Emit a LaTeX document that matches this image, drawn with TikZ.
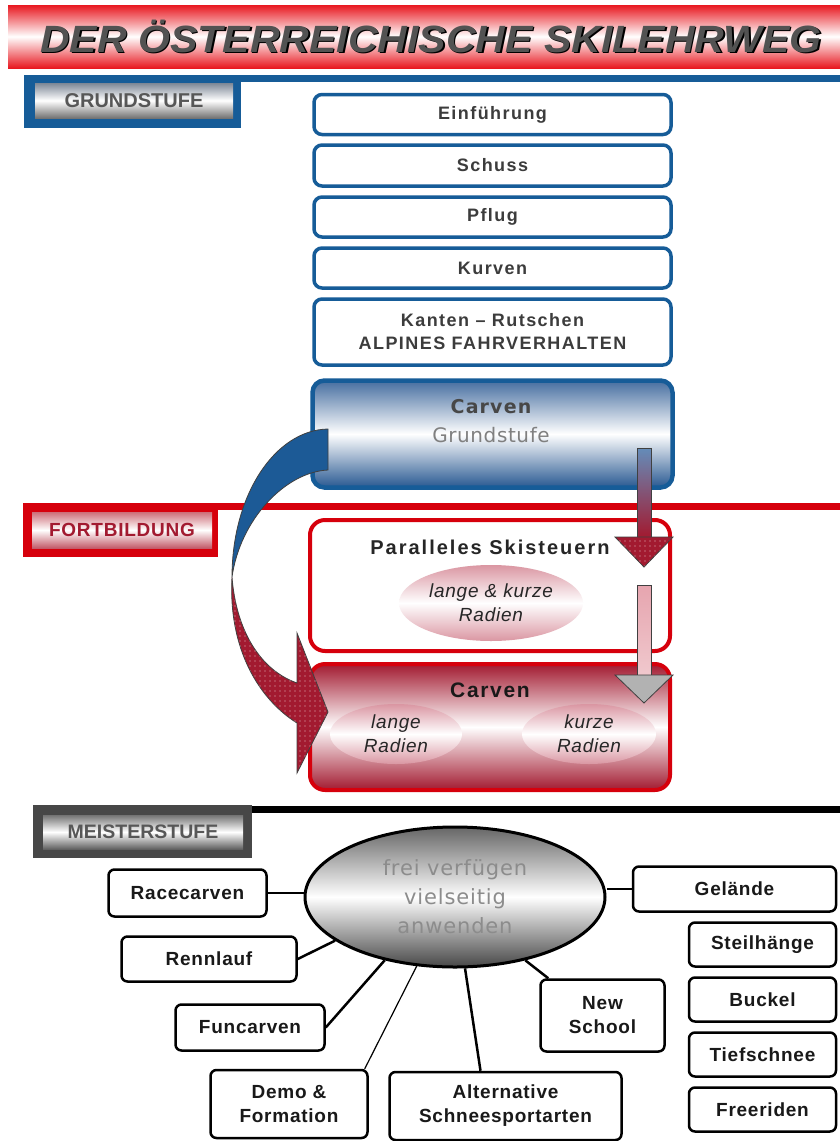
\documentclass[tikz,border=0pt]{standalone}
\usepackage{fontspec}
\setmainfont{Liberation Sans}
\newfontfamily\vd{DejaVu Sans}
\newfontfamily\titlefont[FakeStretch=1.08]{Liberation Sans}
\usetikzlibrary{shapes.geometric,calc,patterns.meta}

\definecolor{gblue}{RGB}{22,92,152}
\definecolor{cblue}{RGB}{28,90,150}
\definecolor{sblue}{RGB}{100,140,185}
\definecolor{bred}{RGB}{214,0,12}
\definecolor{dred}{RGB}{162,26,48}
\definecolor{banred}{RGB}{232,24,32}
\definecolor{pinkdot}{RGB}{218,150,162}
\definecolor{txt}{RGB}{60,60,60}

\newcommand\fs[2]{\fontsize{#1}{#2}\selectfont}
\newcommand\ls[1]{\addfontfeature{LetterSpace=#1}}

\tikzset{
  gbox/.style={draw=gblue, line width=3.5pt, rounded corners=8pt, fill=white,
    minimum width=357pt, inner sep=0pt, align=center, text=txt,
    font=\bfseries\fs{18}{23}\ls{8}},
  rbox/.style={draw=bred, line width=4pt, rounded corners=15pt,
    minimum width=360pt, inner sep=0pt},
  pinkell/.style={ellipse, inner sep=0pt, top color=pinkdot, bottom color=pinkdot,
    middle color=white, align=center, text=black!85, font=\itshape\fs{19}{24}\ls{4}},
  mbox/.style={draw=black, line width=2.5pt, rounded corners=6pt, fill=white,
    inner sep=0pt, align=center, text=black!90, font=\bfseries\fs{19}{24}\ls{4}},
  hdr/.style={inner sep=0pt, font=\bfseries\fs{20}{24}},
  link/.style={draw=black, line width=2.5pt},
  blockedge/.style={draw=black!75, line width=0.8pt},
  dotted red/.style={postaction={pattern={Dots[distance=5pt,radius=0.6pt]}, pattern color=white!70!dred}},
}

\begin{document}
\begin{tikzpicture}[x=1pt, y=-1pt]
\useasboundingbox (0,0) rectangle (840,1141);
\fill[white] (0,0) rectangle (840,1141);

% ---------- title banner ----------
\shade[top color=banred, bottom color=banred, middle color=white] (8,5) rectangle (845,68);
\node[anchor=base, inner sep=0pt, text=black, font=\titlefont\bfseries\itshape\fs{38}{40}]
  (titleshadow) at (432.5,53.5) {DER ÖSTERREICHISCHE SKILEHRWEG};
\node[anchor=base, inner sep=0pt, text=black!68, font=\titlefont\bfseries\itshape\fs{38}{40}]
  (title) at (431,52) {DER ÖSTERREICHISCHE SKILEHRWEG};

% ---------- section rules and level headers ----------
\draw[gblue, line width=7pt] (24,78.5) -- (840,78.5);
\fill[gblue] (24,75) rectangle (241,128);
\node[hdr, top color={rgb,255:red,125;green,135;blue,150}, bottom color=black!55, middle color=white,
  minimum width=198pt, minimum height=35pt, text=black!66] (hgrund) at (134,100.5) {GRUNDSTUFE};

\draw[bred, line width=7pt] (23,506.5) -- (840,506.5);
\fill[bred] (23,503) rectangle (218,557);
\node[hdr, top color={rgb,255:red,205;green,110;blue,120}, bottom color={rgb,255:red,195;green,90;blue,105},
  middle color=white, minimum width=180pt, minimum height=36pt, text=dred, font=\bfseries\fs{19}{24}\ls{4}]
  (hfort) at (122,530) {FORTBILDUNG};

\draw[black, line width=7pt] (240,809) -- (840,809);
\fill[black!72] (33,805) rectangle (252,858);
\node[hdr, top color=black!55, bottom color=black!62, middle color=white,
  minimum width=200pt, minimum height=34pt, text=black!66, font=\bfseries\fs{19.5}{24}]
  (hmeister) at (143,832) {MEISTERSTUFE};

% ---------- Grundstufe ----------
\node[gbox, minimum height=40pt] (einf) at (492.5,114.5) {Einführung};
\node[gbox, minimum height=41pt] (schuss) at (492.5,165.5) {Schuss};
\node[gbox, minimum height=40pt] (pflug) at (492.5,217) {Pflug};
\node[gbox, minimum height=40pt] (kurven) at (492.5,268) {Kurven};
\node[gbox, minimum height=66pt] (kanten) at (492.5,332) {Kanten – Rutschen\\ALPINES FAHRVERHALTEN};

\node[draw=gblue, line width=4.5pt, rounded corners=12pt,
  top color={rgb,255:red,70;green,110;blue,160}, bottom color={rgb,255:red,40;green,88;blue,145},
  middle color=white, minimum width=360pt, minimum height=107pt, inner sep=0pt] (carvG) at (492.5,434) {};
\node[inner sep=0pt, text=black!72, font=\vd\bfseries\fs{19}{22}\ls{6}] (carvGt) at (491,407) {Carven};
\node[inner sep=0pt, text=black!50, font=\vd\fs{20}{24}\ls{3}] (carvGs) at (491,435) {Grundstufe};

% ---------- Fortbildung ----------
\node[rbox, fill=white, minimum height=131pt] (par) at (490,585.5) {};
\node[inner sep=0pt, text=black!85, font=\bfseries\fs{20}{24}\ls{10}] (part) at (490,547) {Paralleles Skisteuern};
\node[pinkell, minimum width=184pt, minimum height=76pt] (radien) at (491,603) {lange \& kurze\\Radien};

\node[rbox, top color=dred, bottom color=dred, middle color=white, minimum height=126pt] (carvF) at (490,727) {};
\node[inner sep=0pt, text=black!90, font=\bfseries\fs{21}{24}\ls{8}] (carvFt) at (490,690) {Carven};
\node[pinkell, minimum width=132pt, minimum height=60pt] (lang) at (396,734) {lange\\Radien};
\node[pinkell, minimum width=134pt, minimum height=60pt] (kurz) at (589,734) {kurze\\Radien};

% ---------- curved block arrow from Grundstufe to Fortbildung ----------
\path[blockedge, fill=cblue]
  (328,429) .. controls (275,430) and (232,495) .. (232,577)
  .. controls (240,520) and (285,472) .. (328,470) -- cycle;
\path[blockedge, fill=dred, dotted red]
  (232,577) .. controls (236,630) and (260,670) .. (297,683)
  -- (297,633) -- (328,712) -- (297,773) -- (297,723)
  .. controls (260,700) and (228,650) .. (232,577) -- cycle;

% ---------- straight block arrows ----------
\path[blockedge, top color=sblue, bottom color=dred] (637,448) rectangle (651,537);
\path[blockedge, fill=dred, dotted red] (615,537) -- (673,537) -- (644,567) -- cycle;
\path[blockedge, top color={rgb,255:red,230;green,165;blue,175}, bottom color={rgb,255:red,240;green,200;blue,205}]
  (637,585) rectangle (651,675);
\path[blockedge, fill=black!30] (615,675) -- (673,675) -- (644,703) -- cycle;

% ---------- Meisterstufe ----------
\node[ellipse, draw=black, line width=3pt, minimum width=300pt, minimum height=140pt, inner sep=0pt,
  top color=black!60, bottom color=black!72, middle color=white, align=center, text=black!45,
  font=\vd\fs{21}{29}\ls{4}] (core) at (455,897) {frei verfügen\\vielseitig\\anwenden};

\node[mbox, minimum width=158pt, minimum height=47pt] (race) at (187.5,893) {Racecarven};
\node[mbox, minimum width=175pt, minimum height=45pt] (renn) at (209,959) {Rennlauf};
\node[mbox, minimum width=149pt, minimum height=46pt] (fun) at (250,1027.5) {Funcarven};
\node[mbox, minimum width=157pt, minimum height=68pt] (demo) at (289,1104) {Demo \&\\Formation};
\node[mbox, minimum width=232pt, minimum height=68pt] (alt) at (505.5,1106) {Alternative\\Schneesportarten};
\node[mbox, minimum width=124pt, minimum height=72pt] (news) at (602.5,1015.5) {New\\School};
\node[mbox, minimum width=203pt, minimum height=45pt] (gel) at (734.5,889) {Gelände};
\node[mbox, minimum width=147pt, minimum height=44pt] (steil) at (762.5,944.5) {Steilhänge};
\node[mbox, minimum width=147pt, minimum height=44pt] (buck) at (762.5,999.5) {Buckel};
\node[mbox, minimum width=147pt, minimum height=44pt] (tief) at (762.5,1054.5) {Tiefschnee};
\node[mbox, minimum width=147pt, minimum height=44pt] (free) at (762.5,1109.5) {Freeriden};

\draw[link] (race.east) -- (race.east -| core.west);
\draw[link] (renn.east) -- (core.200);
\draw[link] (fun.east) -- (core.222);
\draw[link, line width=1.2pt] ($(demo.north east)+(-4,0)$) -- (core.241);
\draw[link] ($(alt.north)+(-25,0)$) -- (core.278);
\draw[link] ($(news.north west)+(9,0)$) -- (core.318);
\draw[link] (gel.west) -- (gel.west -| core.east);
\end{tikzpicture}
\end{document}
